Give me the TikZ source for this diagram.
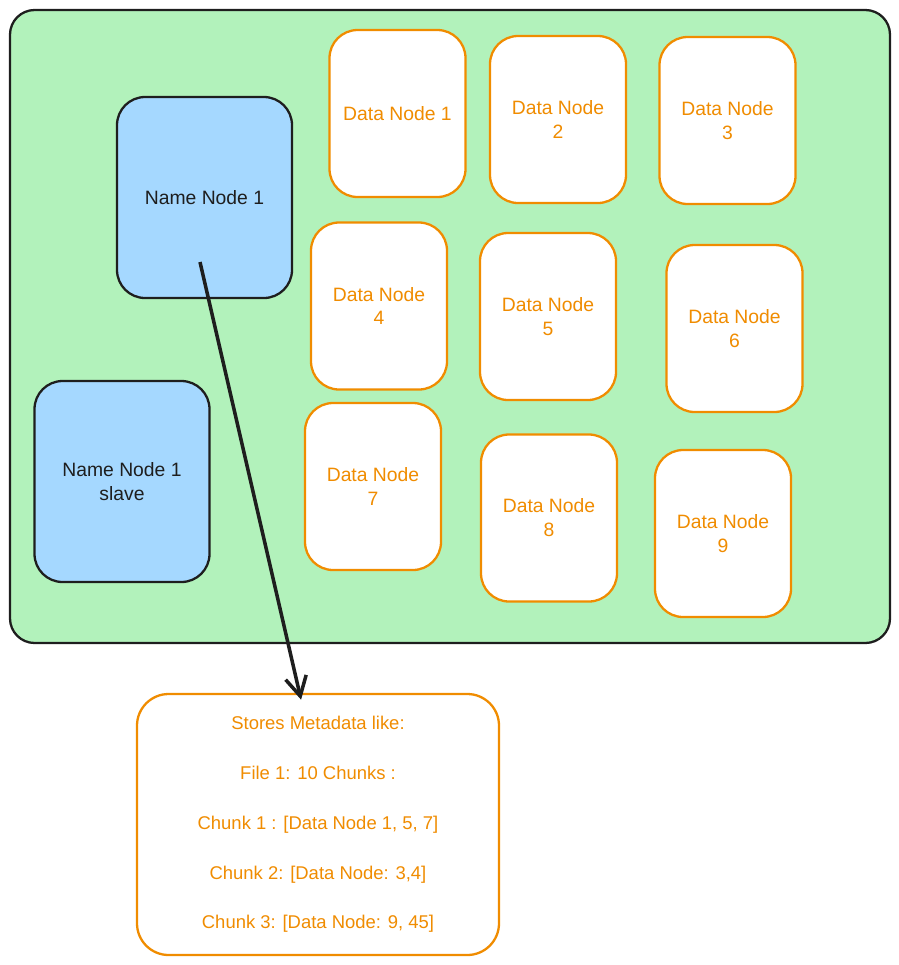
\documentclass[tikz,border=0pt]{standalone}
\usepackage{fontspec}
\setmainfont{Liberation Sans}
\usepackage{xcolor}
\definecolor{Mint}{HTML}{b2f2bb}
\definecolor{Sky}{HTML}{a5d8ff}
\definecolor{Tangerine}{HTML}{f08c00}
\definecolor{Ink}{HTML}{1e1e1e}
\colorlet{cGreen}{Mint}
\colorlet{cBlue}{Sky}
\colorlet{cOrange}{Tangerine}
\usepackage{tikz}
\usetikzlibrary{arrows.meta}
\tikzset{
	>={Straight Barb[length=11pt,width=12pt]},
	font = \fontsize{11}{13.6}\selectfont,
	cluster/.style={
		draw=Ink,
		fill=cGreen,
		line width=1.3pt,
		rounded corners=14pt,
		minimum width=17.6cm,
		minimum height=12.66cm
	},
	name node/.style={
		draw=Ink,
		fill=cBlue,
		text=Ink,
		line width=1.3pt,
		rounded corners=16pt,
		align=center,
		minimum width=3.5cm,
		minimum height=4.02cm
	},
	data node/.style={
		draw=cOrange,
		fill=white,
		text=cOrange,
		line width=1.3pt,
		rounded corners=16pt,
		align=center,
		inner sep=2pt,
		minimum width=2.72cm,
		minimum height=3.34cm
	},
	meta/.style={
		draw=cOrange,
		fill=white,
		text=cOrange,
		line width=1.3pt,
		rounded corners=18pt,
		align=center,
		minimum width=7.24cm,
		minimum height=5.22cm,
		font=\fontsize{10.5}{28.35}\selectfont
	},
	edge/.style={
		->,
		draw=Ink,
		line width=2pt
	}
}

\begin{document}
\begin{tikzpicture}
        \useasboundingbox (0,0) rectangle (17.98,-19.30);
        \node[cluster] (hdfs) at (9.0,-6.53) {};

        \node[name node] (nn1) at (4.09,-3.95) {Name Node 1};
        \node[name node] (nn1s) at (2.44,-9.63) {Name Node 1\\slave};

        \node[data node] (dn1) at (7.95,-2.27) {Data Node 1};
        \node[data node] (dn2) at (11.16,-2.39) {Data Node\\2};
        \node[data node] (dn3) at (14.55,-2.41) {Data Node\\3};
        \node[data node] (dn4) at (7.58,-6.12) {Data Node\\4};
        \node[data node] (dn5) at (10.96,-6.33) {Data Node\\5};
        \node[data node] (dn6) at (14.69,-6.57) {Data Node\\6};
        \node[data node] (dn7) at (7.46,-9.73) {Data Node\\7};
        \node[data node] (dn8) at (10.98,-10.36) {Data Node\\8};
        \node[data node] (dn9) at (14.46,-10.67) {Data Node\\9};

        \node[meta] (meta) at (6.36,-16.49) {Stores Metadata like:\\File 1: 10 Chunks :\\Chunk 1 : [Data Node 1, 5, 7]\\Chunk 2: [Data Node: 3,4]\\Chunk 3: [Data Node: 9, 45]};

        \coordinate (nnout) at (4.0,-5.24);
        \draw[edge, shorten >=-4pt] (nnout) -- (meta.98);
    \end{tikzpicture}
\end{document}
